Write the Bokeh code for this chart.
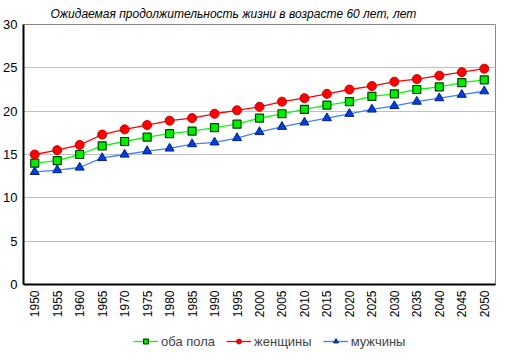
from bokeh.plotting import figure
from bokeh.models import FactorRange, Range1d, FixedTicker, Legend, LegendItem
from bokeh.layouts import column
from bokeh.embed import file_html
from bokeh.resources import INLINE
import math

years = [str(y) for y in range(1950, 2051, 5)]
both = [14.0, 14.3, 15.0, 16.0, 16.5, 17.0, 17.4, 17.7, 18.1, 18.5, 19.2,
        19.7, 20.2, 20.7, 21.1, 21.7, 22.0, 22.5, 22.8, 23.3, 23.6]
women = [15.0, 15.5, 16.1, 17.3, 17.9, 18.4, 18.9, 19.2, 19.7, 20.1, 20.5,
         21.1, 21.5, 22.0, 22.5, 22.9, 23.4, 23.7, 24.1, 24.5, 24.9]
men = [13.0, 13.2, 13.5, 14.6, 15.0, 15.4, 15.7, 16.2, 16.4, 16.9, 17.6,
       18.2, 18.7, 19.2, 19.7, 20.2, 20.6, 21.1, 21.5, 21.9, 22.3]
y_ticks = [0, 5, 10, 15, 20, 25, 30]
title_text = "Ожидаемая продолжительность жизни в возрасте 60 лет, лет"
labels = ["оба пола", "женщины", "мужчины"]

FONT = "Liberation Sans"

styles = [
    dict(line="#00ff00", marker="square", size=8, fill="#00ee00", edge="#004400", lw=1.2),
    dict(line="#ff0000", marker="circle", size=9, fill="#ff0000", edge="#cc0000", lw=1.0),
    dict(line="#3f7fff", marker="triangle", size=9, fill="#0040e0", edge="#001f80", lw=1.0),
]
series = [both, women, men]

p = figure(frame_width=472, frame_height=260,
           x_range=FactorRange(factors=years, range_padding=0),
           y_range=Range1d(0, 30), output_backend="svg", toolbar_location=None,
           min_border_left=22, min_border_right=11, min_border_top=17, min_border_bottom=45)

p.title.text = title_text
p.title.text_font = FONT
p.title.text_font_style = "italic"
p.title.text_font_size = "12px"
p.title.align = "left"
p.title.offset = 27
p.title.text_color = "#000000"
p.title.standoff = 8

p.outline_line_color = "#888888"
p.outline_line_width = 1

p.xgrid.grid_line_color = None
p.ygrid.grid_line_color = "#c0c0c0"
p.yaxis.ticker = FixedTicker(ticks=y_ticks)

for ax in (p.xaxis, p.yaxis):
    ax.axis_line_color = "#000000"
    ax.axis_line_width = 2
    ax.major_tick_line_color = None
    ax.minor_tick_line_color = None
    ax.major_tick_out = 0
    ax.major_tick_in = 0
    ax.minor_tick_out = 0
    ax.axis_label = None
    ax.axis_label_standoff = 0
    ax.major_label_text_font = FONT
    ax.major_label_text_color = "#000000"
p.yaxis.major_label_text_font_size = "13px"
p.yaxis.major_label_standoff = 6
p.xaxis.major_label_text_font_size = "12px"
p.xaxis.major_label_orientation = math.pi / 2
p.xaxis.major_label_standoff = 6

for vals, st in zip(series, styles):
    p.line(years, vals, line_color=st["line"], line_width=1.3)
    p.scatter(years, vals, marker=st["marker"], size=st["size"], fill_color=st["fill"],
              line_color=st["edge"], line_width=st["lw"])

# legend strip below the chart (its series lie outside its view; only the legend shows)
p2 = figure(width=505, height=23, x_range=FactorRange(factors=years),
            y_range=Range1d(100, 101),
            x_axis_type=None, y_axis_type=None, output_backend="svg", toolbar_location=None,
            min_border=0, outline_line_color=None)
p2.xgrid.grid_line_color = None
p2.ygrid.grid_line_color = None
items = []
for lab, vals, st in zip(labels, series, styles):
    lr = p2.line(years, vals, line_color=st["line"], line_width=1.3)
    sr = p2.scatter(years, vals, marker=st["marker"], size=5,
                    fill_color=st["fill"], line_color=st["edge"], line_width=st["lw"])
    items.append(LegendItem(label=lab, renderers=[lr, sr]))

legend = Legend(items=items, orientation="horizontal", location=(110, 1),
                border_line_color=None, background_fill_alpha=0,
                glyph_width=25, glyph_height=12, label_standoff=3, spacing=11,
                label_text_font=FONT, label_text_font_size="13px",
                label_height=20, padding=0, margin=0)
p2.add_layout(legend, "center")

open("out.html", "w").write(file_html(column(p, p2, spacing=0), INLINE))
